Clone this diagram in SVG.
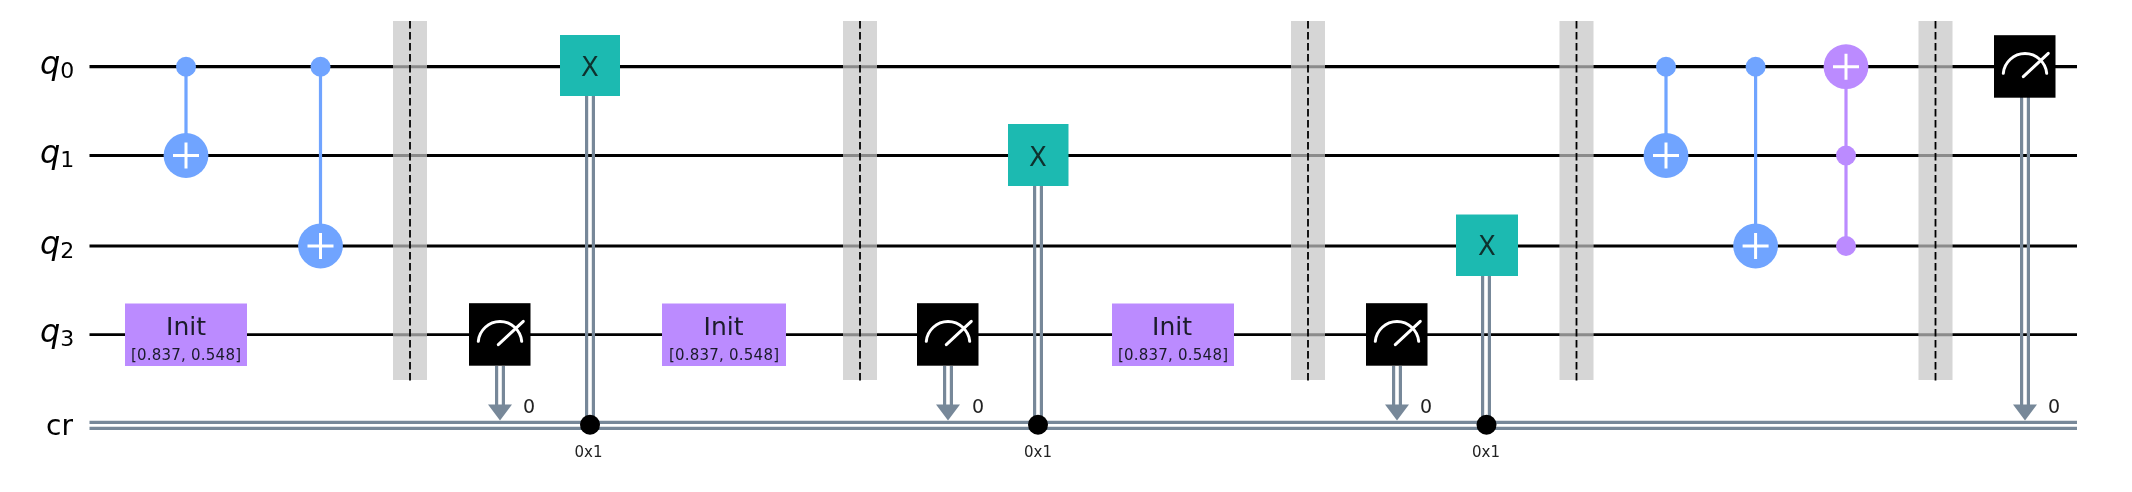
<svg xmlns="http://www.w3.org/2000/svg" width="2132" height="492" viewBox="0 0 2132 492">
<defs>
<style>
text{font-family:"DejaVu Sans",sans-serif;text-anchor:middle}
.q{stroke:#000;stroke-width:3.2;fill:none}
.q3{stroke-width:2.8}
.c{stroke:#778899;stroke-width:3.200;fill:none}
.bar{fill:#d6d6d6}
.wd{stroke:#000;stroke-opacity:.35;stroke-width:3}
.dash{stroke:#000;stroke-width:1.800;stroke-dasharray:7.500 3.500;fill:none}
.blue{fill:#6fa4ff}.bl{stroke:#6fa4ff;stroke-width:3.200;fill:none}
.pur{fill:#bb8bff}.pl{stroke:#bb8bff;stroke-width:3.200;fill:none}
.pl2{stroke:#fff;stroke-width:3;fill:none}
.xg{fill:#1fbab1}
.m{fill:#000}
.dial{stroke:#fff;stroke-width:3;fill:none;stroke-linecap:round}
.lab{font-size:32px;font-style:italic;text-anchor:start}
.sub{font-size:22px;font-style:normal}
.init{font-size:25px;fill:#1a1a2a}
.par{font-size:15px;fill:#1a1a2a}
.zero{font-size:19px;fill:#222}
.hex{font-size:15px;fill:#222}
.xt{font-size:26px;fill:#10302e}
</style>
<filter id="soft" filterUnits="userSpaceOnUse" x="0" y="0" width="2132" height="492"><feGaussianBlur stdDeviation="0.55"/></filter>
<g id="cnot"><circle r="22.400" class="blue"/><path d="M-13 0H13M0-13V13" class="pl2"/></g>
<g id="ctoff"><circle r="22.400" class="pur"/><path d="M-13 0H13M0-13V13" class="pl2"/></g>
<g id="meter"><rect x="-31" y="-31.500" width="61.500" height="62.500" class="m"/><path d="M-21.700 6.600A21.800 21.800 0 0 1 21.700 6.600M-1.700 10L23.300 -13.400" class="dial"/></g>
<g id="barrier"><rect x="-17" y="21" width="34" height="359" class="bar"/><path d="M-17 66.700H17M-17 155.500H17M-17 246H17M-17 334.700H17" class="wd"/><path d="M0 21V382" class="dash"/></g>
<g id="arrowhead"><path d="M-12 -16H12L0 0Z" fill="#778899"/></g>
</defs>
<rect width="2132" height="492" fill="#fff"/>
<g filter="url(#soft)">
<g id="connectors">
<path d="M89.500 66.700H2077M89.500 155.500H2077M89.500 246H2077" class="q"/>
<path d="M89.500 334.700H2077" class="q q3"/>
<path d="M89.500 422.300H2077M89.500 428.300H2077" class="c"/>
<path d="M186 66.700V155M320.500 66.700V246M1666 66.700V155M1755.600 66.700V246" class="bl"/>
<path d="M1846 66.700V246" class="pl"/>
<path class="c" d="M586.600 96V425M593.400 96V425M1034.600 186V425M1041.400 186V425M1482.600 276V425M1489.400 276V425M496.600 366V406M503.400 366V406M944.600 366V406M951.400 366V406M1393.600 366V406M1400.400 366V406M2021.600 96V406M2028.400 96V406"/>
<use href="#arrowhead" x="500" y="420.500"/><use href="#arrowhead" x="948" y="420.500"/><use href="#arrowhead" x="1397" y="420.500"/><use href="#arrowhead" x="2025" y="420.500"/>
</g>
<g id="label-q0"><text class="lab" x="40" y="74">q<tspan class="sub" dy="4">0</tspan></text></g>
<g id="label-q1"><text class="lab" x="40" y="163">q<tspan class="sub" dy="4">1</tspan></text></g>
<g id="label-q2"><text class="lab" x="40" y="253.500">q<tspan class="sub" dy="4">2</tspan></text></g>
<g id="label-q3"><text class="lab" x="40" y="342">q<tspan class="sub" dy="4">3</tspan></text></g>
<g id="label-cr"><text x="59.500" y="435" font-size="28">cr</text></g>
<g id="cx1"><circle cx="186" cy="66.700" r="10" class="blue"/><use href="#cnot" x="186" y="155.500"/></g>
<g id="cx2"><circle cx="320.500" cy="66.700" r="10" class="blue"/><use href="#cnot" x="320.500" y="246"/></g>
<use id="barrier1" href="#barrier" x="410"/>
<g id="init1"><rect x="125" y="303.500" width="122" height="62.500" class="pur"/><text class="init" x="186" y="335">Init</text><text class="par" x="186" y="360" textLength="110" lengthAdjust="spacing">[0.837, 0.548]</text></g>
<g id="measure1"><use href="#meter" x="500" y="334.700"/><text class="zero" x="529" y="413">0</text></g>
<g id="x1"><rect x="560" y="35" width="60" height="61" class="xg"/><text class="xt" x="590" y="76">X</text><circle cx="590" cy="424.700" r="10" fill="#000"/><text class="hex" x="588.500" y="456.500">0x1</text></g>
<g id="init2"><rect x="662" y="303.500" width="124" height="62.500" class="pur"/><text class="init" x="723.500" y="335">Init</text><text class="par" x="724" y="360" textLength="110" lengthAdjust="spacing">[0.837, 0.548]</text></g>
<use id="barrier2" href="#barrier" x="860"/>
<g id="measure2"><use href="#meter" x="948" y="334.700"/><text class="zero" x="978" y="413">0</text></g>
<g id="x2"><rect x="1008" y="124" width="60.500" height="62" class="xg"/><text class="xt" x="1038" y="165.500">X</text><circle cx="1038" cy="424.700" r="10" fill="#000"/><text class="hex" x="1038" y="456.500">0x1</text></g>
<g id="init3"><rect x="1112" y="303.500" width="122" height="62.500" class="pur"/><text class="init" x="1172" y="335">Init</text><text class="par" x="1173" y="360" textLength="110" lengthAdjust="spacing">[0.837, 0.548]</text></g>
<use id="barrier3" href="#barrier" x="1308"/>
<g id="measure3"><use href="#meter" x="1397" y="334.700"/><text class="zero" x="1426" y="413">0</text></g>
<g id="x3"><rect x="1456" y="214.500" width="62" height="61.500" class="xg"/><text class="xt" x="1487" y="255">X</text><circle cx="1486.500" cy="424.700" r="10" fill="#000"/><text class="hex" x="1486" y="456.500">0x1</text></g>
<use id="barrier4" href="#barrier" x="1576.500"/>
<g id="cx3"><circle cx="1666" cy="66.700" r="10" class="blue"/><use href="#cnot" x="1666" y="155.500"/></g>
<g id="cx4"><circle cx="1755.600" cy="66.700" r="10" class="blue"/><use href="#cnot" x="1755.600" y="246"/></g>
<g id="ccx"><use href="#ctoff" x="1846" y="66.700"/><circle cx="1846" cy="155.500" r="10" class="pur"/><circle cx="1846" cy="246" r="10" class="pur"/></g>
<use id="barrier5" href="#barrier" x="1935.500"/>
<g id="measure4"><use href="#meter" x="2025" y="66.700"/><text class="zero" x="2054" y="413">0</text></g>
</g>
</svg>
